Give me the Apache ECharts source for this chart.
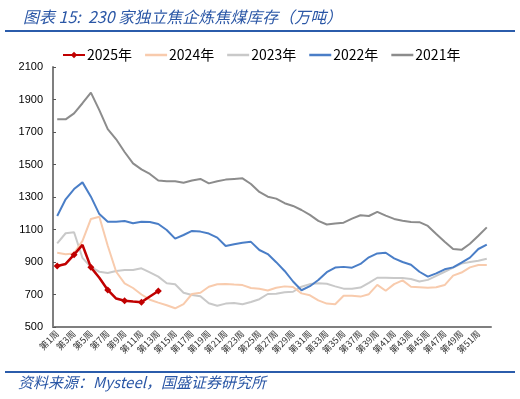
<!DOCTYPE html>
<html>
<head>
<meta charset="utf-8">
<script src="https://cdn.jsdelivr.net/npm/echarts@6/dist/echarts.min.js"></script>
<style>
  html, body { margin: 0; padding: 0; background: #fff; }
  #chart { width: 520px; height: 399px; }
</style>
</head>
<body>
<div id="chart"></div>
<script>
// 230家独立焦企炼焦煤库存（万吨），按周
const weeks = [];
for (let i = 1; i <= 52; i++) weeks.push('第' + i + '周');

const y2025 = [875, 888, 945, 1005, 867, 803, 728, 675, 662, 657, 653, 688, 722];
const y2024 = [957, 948, 953, 1030, 1165, 1179, 1000, 840, 769, 740, 700, 668, 650, 634, 615, 641, 703, 711, 748, 763,
  765, 761, 758, 740, 736, 725, 742, 750, 746, 707, 695, 664, 644, 640, 692, 693, 687, 702, 759, 723,
  764, 787, 748, 745, 742, 745, 758, 816, 835, 867, 881, 881];
const y2023 = [1015, 1077, 1083, 925, 868, 840, 832, 845, 851, 851, 861, 836, 810, 769, 763, 711, 697, 689, 646, 631,
  644, 648, 640, 654, 671, 703, 705, 714, 717, 748, 764, 769, 766, 750, 736, 735, 743, 772, 803, 803,
  801, 801, 795, 780, 790, 815, 840, 865, 890, 900, 908, 920];
const y2022 = [1183, 1286, 1349, 1390, 1302, 1195, 1148, 1148, 1152, 1138, 1148, 1146, 1134, 1097, 1044, 1066, 1091, 1087, 1075, 1050,
  998, 1009, 1019, 1024, 974, 949, 899, 845, 780, 726, 751, 789, 837, 866, 870, 865, 888, 929, 953, 957,
  922, 900, 883, 840, 810, 830, 855, 867, 896, 927, 980, 1007];
const y2021 = [1778, 1778, 1815, 1877, 1942, 1835, 1718, 1655, 1577, 1507, 1470, 1442, 1401, 1397, 1397, 1388, 1401, 1411, 1384, 1397,
  1407, 1411, 1415, 1380, 1331, 1302, 1290, 1262, 1245, 1220, 1190, 1153, 1131, 1137, 1142, 1167, 1188, 1183, 1209, 1185,
  1165, 1154, 1146, 1145, 1122, 1072, 1025, 980, 975, 1012, 1062, 1113];

const yTicks = { min: 500, max: 2100, interval: 200 };

const chart = echarts.init(document.getElementById('chart'));

// 图例里只画一条细线
const plainLine = 'path://M0,0 H22 V2.5 H0 Z';

function lineSeries(name, data, color, z) {
  return {
    name: name,
    type: 'line',
    data: data,
    symbol: 'none',
    showSymbol: false,
    z: z,
    lineStyle: { color: color, width: 2 },
    itemStyle: { color: color }
  };
}

const option = {
  animation: false,
  backgroundColor: '#fff',
  title: {
    text: '图表 15:  230 家独立焦企炼焦煤库存（万吨）',
    left: 18,
    top: 4,
    textStyle: {
      fontFamily: 'Noto Sans CJK SC',
      fontStyle: 'italic',
      fontWeight: 'normal',
      fontSize: 16,
      color: '#2B57A6'
    }
  },
  legend: {
    left: 57,
    top: 43,
    itemWidth: 22,
    itemHeight: 8,
    itemGap: 13,
    textStyle: { fontFamily: 'Noto Sans CJK SC', fontSize: 14, color: '#000', padding: [0, 0, 0, -3] },
    data: [
      { name: '2025年' },
      { name: '2024年', icon: plainLine },
      { name: '2023年', icon: plainLine },
      { name: '2022年', icon: plainLine },
      { name: '2021年', icon: plainLine }
    ]
  },
  grid: { left: 53, right: 29, top: 67, bottom: 72, containLabel: false },
  xAxis: {
    type: 'category',
    data: weeks,
    boundaryGap: true,
    axisLine: { lineStyle: { color: '#7f7f7f', width: 2 } },
    axisTick: { inside: true, length: 3, interval: 0, lineStyle: { color: '#555' } },
    axisLabel: {
      interval: 1,
      rotate: 45,
      fontSize: 9,
      color: '#333',
      fontFamily: 'Noto Sans CJK SC',
      margin: 5
    },
    splitLine: { show: false }
  },
  yAxis: {
    type: 'value',
    min: yTicks.min,
    max: yTicks.max,
    interval: yTicks.interval,
    axisLine: { show: true, lineStyle: { color: '#7f7f7f', width: 2 } },
    axisTick: { show: true, inside: true, length: 3, lineStyle: { color: '#555' } },
    axisLabel: {
      fontSize: 11, color: '#000', fontFamily: 'Liberation Sans', margin: 10,
      formatter: function (v) { return String(v); }
    },
    splitLine: { show: false }
  },
  graphic: [
    { type: 'line', shape: { x1: 5, y1: 31, x2: 515, y2: 31 }, style: { stroke: '#2B5CAB', lineWidth: 2 } },
    { type: 'line', shape: { x1: 5, y1: 372, x2: 515, y2: 372 }, style: { stroke: '#2B5CAB', lineWidth: 2 } },
    {
      type: 'text', left: 18, top: 375,
      style: {
        text: '资料来源：Mysteel，国盛证券研究所',
        font: 'italic 15px "Noto Sans CJK SC"',
        fill: '#2B57A6'
      }
    }
  ],
  series: [
    {
      name: '2025年',
      type: 'line',
      data: y2025,
      symbol: 'diamond',
      symbolSize: 7,
      z: 10,
      lineStyle: { color: '#C00000', width: 2.5 },
      itemStyle: { color: '#C00000' }
    },
    lineSeries('2024年', y2024, '#F8CBAD', 4),
    lineSeries('2023年', y2023, '#C9C9C9', 3),
    lineSeries('2022年', y2022, '#4A7EC7', 5),
    lineSeries('2021年', y2021, '#8C8C8C', 2)
  ]
};

chart.setOption(option);
</script>
</body>
</html>
